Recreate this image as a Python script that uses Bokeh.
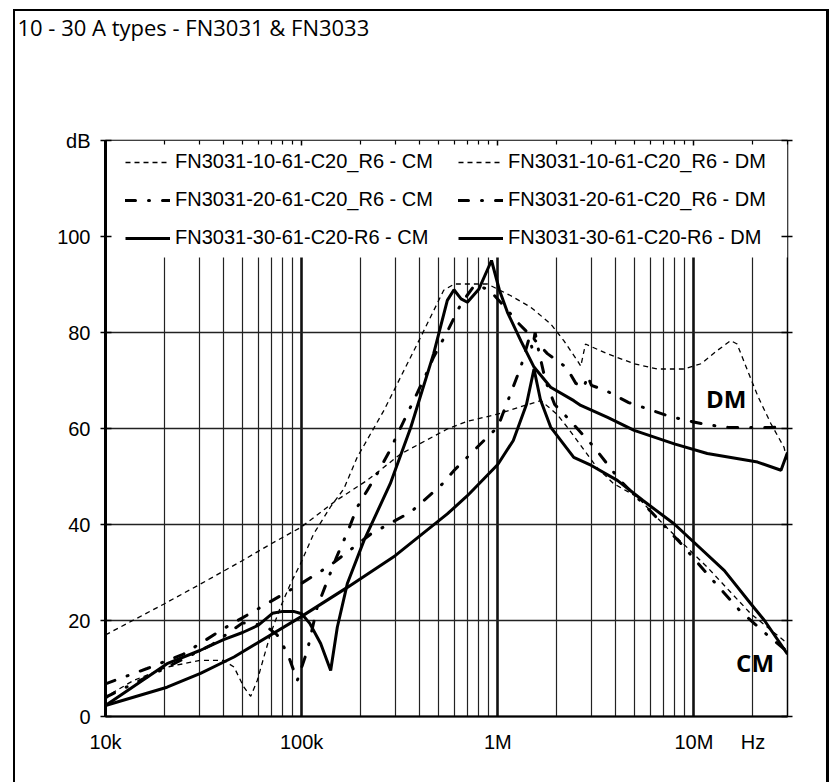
from bokeh.plotting import figure
from bokeh.layouts import column
from bokeh.models import (Range1d, FixedTicker, LogAxis, LinearAxis, Legend, LegendItem,
                          Label, BoxAnnotation)
from bokeh.embed import file_html
from bokeh.resources import INLINE

title_text = "10 - 30 A types - FN3031 & FN3033"

# frequency (Hz) / attenuation (dB)
f_cm10 = [1e4, 2e4, 3.05e4, 5e4, 7e4, 9.9e4, 1.5e5, 2.16e5, 3.2e5, 5.53e5, 7e5, 1e6, 1.3e6, 1.66e6,
          2e6, 2.26e6, 3.2e6, 3.9e6, 5.16e6, 7e6, 1.17e7, 1.95e7, 3e7]
db_cm10 = [17, 23.5, 27.6, 32.5, 36, 39.4, 45, 49.2, 54.7, 59.9, 61.5, 63, 64.5, 65.8,
           63, 60.3, 51.9, 48.5, 45.7, 40, 31.1, 21.4, 15.2]

f_dm10 = [1e4, 1.06e4, 1.39e4, 2.06e4, 3.05e4, 4e4, 4.52e4, 5.08e4, 5.5e4, 5.94e4, 6.42e4, 6.94e4,
          7.8e4, 8.76e4, 9.86e4, 1.15e5, 1.4e5, 1.64e5, 1.92e5, 2.63e5, 4.04e5, 5.3e5, 6e5, 8.85e5,
          1.16e6, 1.47e6, 1.86e6, 2.17e6, 2.54e6, 2.65e6, 2.8e6, 3.6e6, 4.96e6, 6.5e6, 8.9e6, 1.09e7,
          1.32e7, 1.54e7, 1.66e7, 1.88e7, 2.13e7, 2.47e7, 2.88e7, 3e7]
db_dm10 = [3.5, 4.7, 7.5, 10.3, 11.7, 11.7, 10.3, 6.1, 4.2, 7.5, 12.4, 17.2,
           22.8, 27.6, 31.8, 38, 43.6, 47.4, 54, 63.8, 79, 88.8, 90.1, 90.1,
           87.7, 85.3, 81.8, 78.3, 74.2, 73, 77.6, 75.6, 73.5, 72.4, 72.4, 73.5,
           76.3, 78.3, 77.6, 72, 66.5, 61, 56.1, 53]

f_cm20 = [1e4, 1.63e4, 2.5e4, 4e4, 6.4e4, 9.86e4, 1.4e5, 2.25e5, 3.6e5, 5.12e5, 6e5, 8.5e5, 1e6,
          1.31e6, 1.45e6, 1.5e6, 1.55e6, 1.62e6, 1.75e6, 1.95e6, 2.26e6, 3.1e6, 4.2e6, 5.97e6,
          8.6e6, 1.21e7, 1.72e7, 2.44e7, 3e7]
db_cm20 = [6.8, 10, 13, 18.3, 23.1, 27.6, 31.5, 38, 42.6, 48.1, 51.3, 57.5, 60.3,
           72.8, 79, 76.5, 80, 76, 70, 65, 62.3, 56.1, 49.2, 42.9,
           36, 29, 22, 16.5, 13.5]

f_dm20 = [1e4, 2e4, 3.5e4, 5e4, 6.5e4, 7.5e4, 8.5e4, 9.5e4, 1.07e5, 1.2e5, 1.5e5, 1.74e5, 1.92e5,
          2.16e5, 2.43e5, 2.79e5, 3.45e5, 4.28e5, 4.71e5, 5.5e5, 6.5e5, 7.6e5, 9e5, 1.07e6, 1.27e6,
          1.5e6, 1.79e6, 2.24e6, 2.5e6, 2.75e6, 2.87e6, 3e6, 3.56e6, 4.65e6, 5.7e6, 7.3e6, 9.1e6,
          1.16e7, 1.51e7, 1.95e7, 2.5e7, 3e7]
db_dm20 = [4, 10, 15, 19.5, 19, 17, 13, 7.5, 13.8, 22.8, 33, 39.1, 43.6,
           47.1, 50.6, 55.1, 63, 71, 74.9, 80, 86, 89.8, 89, 85.6, 82,
           79, 75.6, 72.7, 69.4, 68.5, 71, 69, 67.9, 65.4, 64.2, 62.7, 61.7,
           60.8, 60.2, 60.2, 60.2, 60.5]

f_cm30 = [1e4, 2.06e4, 3.05e4, 4.52e4, 9.86e4, 1.71e5, 3e5, 5.53e5, 7e5, 1e6, 1.2e6, 1.4e6, 1.53e6,
          1.65e6, 1.86e6, 2.44e6, 3e6, 4.07e6, 5.5e6, 7.94e6, 1e7, 1.43e7, 1.95e7, 2.29e7, 3e7]
db_cm30 = [2.3, 6.1, 9, 12.4, 20.7, 26.9, 33.5, 42.2, 46, 52.5, 57.5, 65, 72.4,
           66, 60.3, 54, 52.3, 49.2, 45, 40.1, 36.3, 30.4, 23.5, 20, 13]

f_dm30 = [1e4, 2.06e4, 3.05e4, 4e4, 5e4, 6e4, 7.1e4, 8e4, 9.1e4, 1e5, 1.1e5, 1.25e5, 1.406e5,
          1.52e5, 1.71e5, 2.08e5, 2.83e5, 3.6e5, 4.71e5, 5.53e5, 5.98e5, 6.5e5, 7e5, 8e5, 9.29e5,
          1.02e6, 1.12e6, 1.31e6, 1.53e6, 1.86e6, 2.44e6, 2.65e6, 3.63e6, 4.96e6, 7.94e6, 1.17e7,
          2.11e7, 2.78e7, 3e7]
db_dm30 = [2.3, 11, 13.8, 16, 17.5, 19, 21.5, 21.9, 21.9, 21.4, 19.4, 15.2, 9.6,
           18.6, 27.7, 36.7, 48.5, 60.2, 75.6, 86.7, 88.9, 87, 86.3, 89, 95,
           88.8, 84.2, 78.3, 72.8, 68.6, 65.8, 64.8, 62.3, 59.6, 56.8, 54.8,
           53, 51.3, 55]

x_major = [1e4, 1e5, 1e6, 1e7]
x_labels = {10000: "10k", 100000: "100k", 1000000: "1M", 10000000: "10M", 20000000: "Hz"}
x_minor = [m * d for d in (1e4, 1e5, 1e6, 1e7) for m in range(2, 10) if m * d <= 3e7]
y_ticks = [0, 20, 40, 60, 80, 100, 120]

names_cm = ["FN3031-10-61-C20_R6 - CM", "FN3031-20-61-C20_R6 - CM", "FN3031-30-61-C20-R6 - CM"]
names_dm = ["FN3031-10-61-C20_R6 - DM", "FN3031-20-61-C20_R6 - DM", "FN3031-30-61-C20-R6 - DM"]

FONT = "Liberation Sans"
W = 811
H_TITLE = 60

# ---- title strip: an empty figure whose title carries the chart heading ----
t = figure(width=W, height=H_TITLE, x_range=Range1d(0, 1), y_range=Range1d(0, 1),
           x_axis_location=None, y_axis_location=None, min_border=0,
           output_backend="svg", toolbar_location=None)
t.outline_line_color = None
t.background_fill_color = "white"
t.border_fill_color = "white"
t.grid.grid_line_color = None
t.title.text = title_text
t.title.align = "left"
t.title.vertical_align = "top"
t.title.standoff = 0
t.title.offset = -88
t.title.text_font = "Open Sans"
t.title.text_font_size = "22px"
t.title.text_font_style = "normal"
t.title.text_color = "black"

# ---- main chart ----
p = figure(width=W, height=771 - H_TITLE, x_axis_type="log",
           x_range=Range1d(1e4, 3e7), y_range=Range1d(0, 120),
           output_backend="svg", toolbar_location=None,
           min_border_left=90, min_border_right=39, min_border_top=129 - H_TITLE,
           min_border_bottom=66)
p.background_fill_color = "white"
p.border_fill_color = "white"
p.outline_line_color = "black"
p.outline_line_width = 1.5

# bottom axis
xa = p.xaxis[0]
xa.ticker = FixedTicker(ticks=x_major + [2e7], minor_ticks=[])
xa.major_label_overrides = x_labels
xa.major_label_text_font = FONT
xa.major_label_text_font_size = "20px"
xa.major_label_text_color = "black"
xa.axis_line_width = 2
xa.axis_line_color = "black"
xa.major_tick_in = 0
xa.major_tick_out = 0
xa.minor_tick_in = 0
xa.minor_tick_out = 0
xa.major_label_standoff = 14

# left axis
ya = p.yaxis[0]
ya.ticker = FixedTicker(ticks=y_ticks, minor_ticks=[])
ya.major_label_overrides = {120: "dB"}
ya.major_label_text_font = FONT
ya.major_label_text_font_size = "20px"
ya.major_label_text_color = "black"
ya.axis_line_width = 3
ya.axis_line_color = "black"
ya.major_tick_in = 6
ya.major_tick_out = 5
ya.major_tick_line_width = 1.5
ya.minor_tick_in = 0
ya.minor_tick_out = 0
ya.major_label_standoff = 10

# top and right tick-only axes (labels fully transparent)
top = LogAxis(ticker=FixedTicker(ticks=x_major, minor_ticks=x_minor),
              major_label_text_alpha=0, major_label_text_font_size="8px", axis_line_color=None,
              major_tick_in=5, major_tick_out=0, minor_tick_in=4, minor_tick_out=0,
              major_tick_line_width=1.5, minor_tick_line_width=1.2)
p.add_layout(top, "above")
right = LinearAxis(ticker=FixedTicker(ticks=y_ticks, minor_ticks=[]),
                   major_label_text_alpha=0, major_label_text_font_size="8px", axis_line_color=None,
                   major_tick_in=6, major_tick_out=5, major_tick_line_width=1.5,
                   minor_tick_in=0, minor_tick_out=0)
p.add_layout(right, "right")

# grids
p.xgrid.ticker = FixedTicker(ticks=[1e5, 1e6, 1e7], minor_ticks=x_minor)
p.xgrid.grid_line_color = "#111111"
p.xgrid.grid_line_width = 2.6
p.xgrid.minor_grid_line_color = "#222222"
p.xgrid.minor_grid_line_width = 1.2
p.ygrid.ticker = FixedTicker(ticks=[20, 40, 60, 80, 100], minor_ticks=[])
p.ygrid.grid_line_color = "#222222"
p.ygrid.grid_line_width = 1.5

# white band behind the legend
band = BoxAnnotation(bottom=95.6, fill_color="white", fill_alpha=1.0, line_alpha=0, level="glyph")
p.add_layout(band)

thin = dict(line_color="black", line_width=1.3, line_dash="5 4")
dashdot = dict(line_color="black", line_width=3, line_dash="10 13 1 13", line_cap="round")
solid = dict(line_color="black", line_width=3)

r_cm10 = p.line(f_cm10, db_cm10, **thin)
r_dm10 = p.line(f_dm10, db_dm10, **thin)
r_cm20 = p.line(f_cm20, db_cm20, **dashdot)
r_dm20 = p.line(f_dm20, db_dm20, **dashdot)
r_cm30 = p.line(f_cm30, db_cm30, **solid)
r_dm30 = p.line(f_dm30, db_dm30, **solid)

def make_legend(names, rends, loc):
    lg = Legend(items=[LegendItem(label=n, renderers=[r]) for n, r in zip(names, rends)],
                location=loc, orientation="vertical",
                glyph_width=45, glyph_height=20, label_height=20, label_standoff=5,
                spacing=15, padding=0, margin=0,
                label_text_font=FONT, label_text_font_size="20px", label_text_color="black",
                background_fill_alpha=0, border_line_alpha=0)
    return lg

p.add_layout(make_legend(names_cm, [r_cm10, r_cm20, r_cm30], (20, 467)))
p.add_layout(make_legend(names_dm, [r_dm10, r_dm20, r_dm30], (353, 467)))

p.add_layout(Label(x=14.6e6, y=66.3, text="DM", text_font="Open Sans", text_font_style="bold",
                   text_font_size="24px", text_align="center", text_baseline="middle",
                   text_color="black"))
p.add_layout(Label(x=20.5e6, y=11.3, text="CM", text_font="Open Sans", text_font_style="bold",
                   text_font_size="24px", text_align="center", text_baseline="middle",
                   text_color="black"))

# outer frame lines: CSS borders around the whole chart, content starting at (15, 11)
layout = column(t, p, spacing=0, margin=(9, 0, 0, 13),
                styles={"border-left": "2px solid black", "border-top": "2px solid black",
                        "border-right": "3px solid black"})

open("out.html", "w").write(file_html(layout, INLINE))
